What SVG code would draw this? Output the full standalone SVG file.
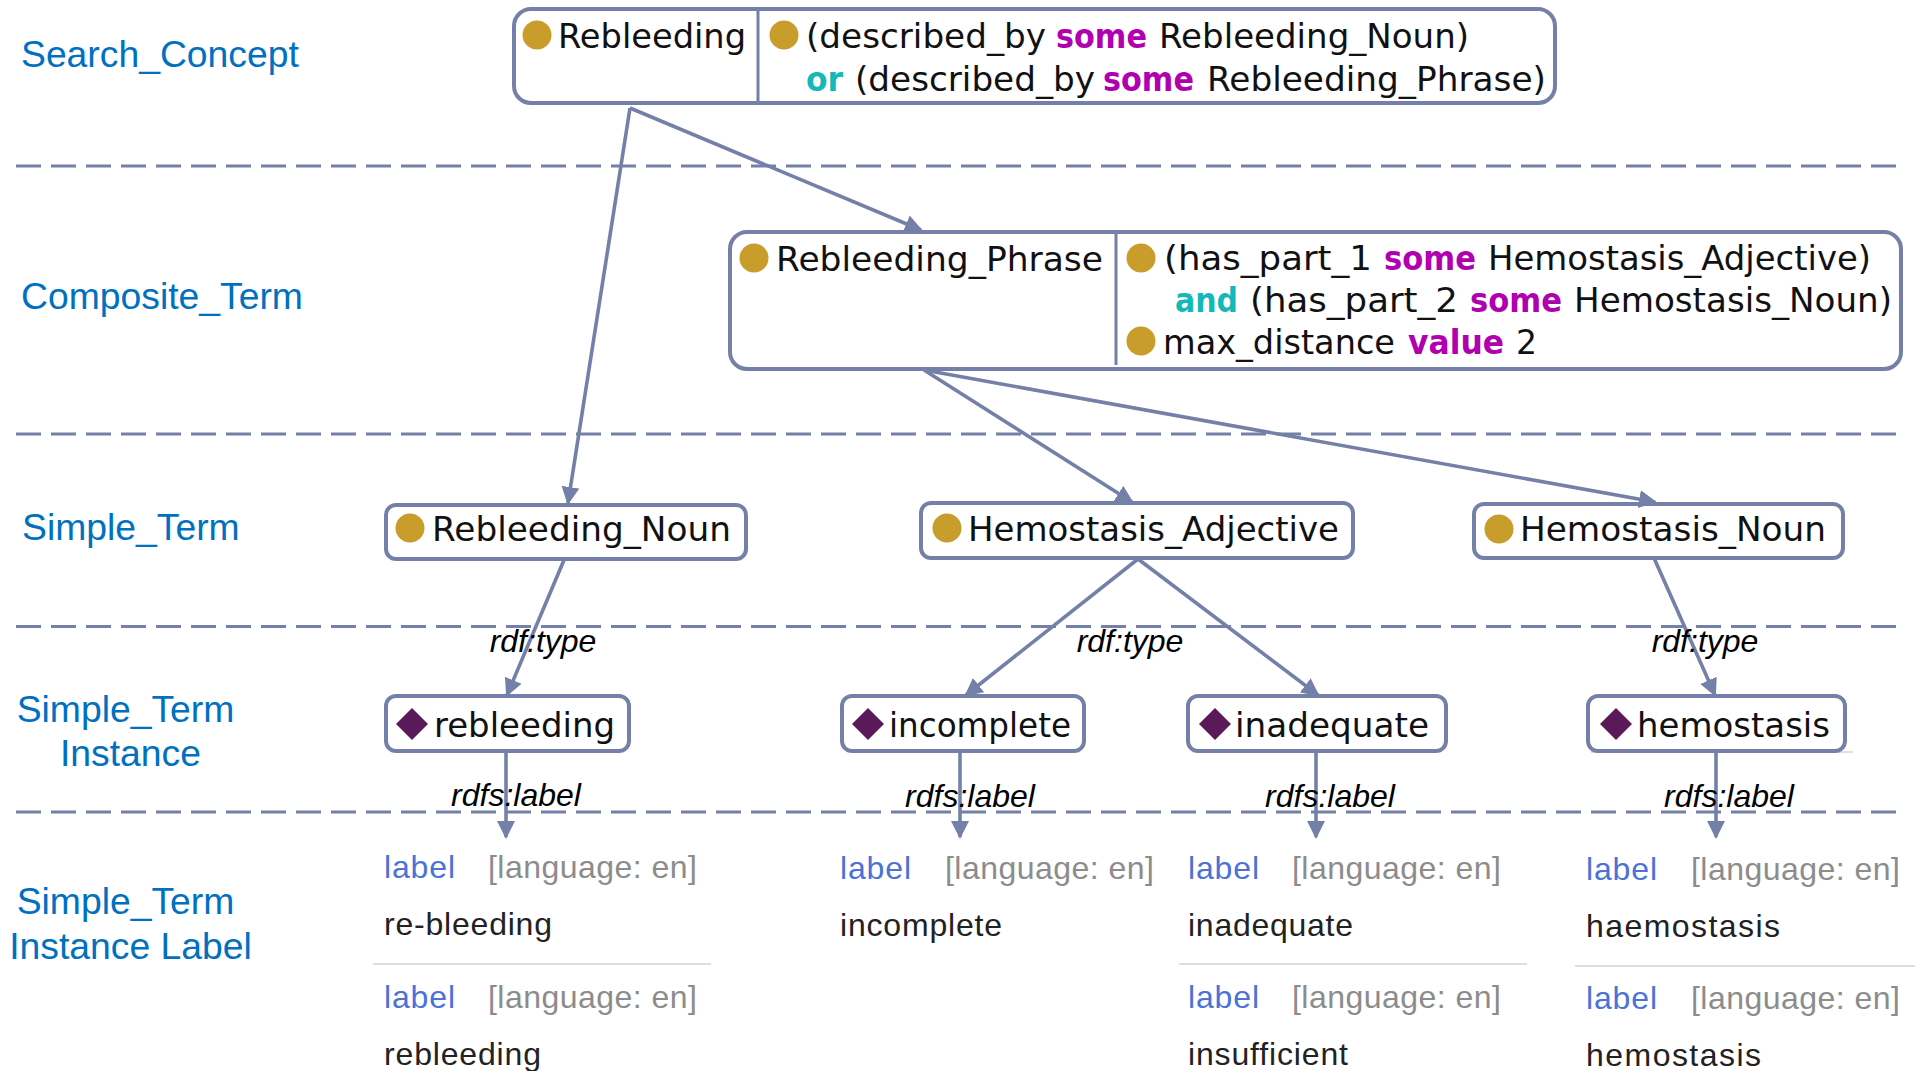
<svg xmlns="http://www.w3.org/2000/svg" width="1915" height="1071" viewBox="0 0 1915 1071">
<style>
.bg{fill:#fff}
.box{fill:#fff;stroke:#7480a8;stroke-width:4}
.div{stroke:#7480a8;stroke-width:3}
.sep{stroke:#dedede;stroke-width:2;fill:none}
.dash{stroke:#7480a8;stroke-width:3;stroke-dasharray:25 10;fill:none}
.conn{stroke:#7480a8;stroke-width:3.6;fill:none;marker-end:url(#arrow)}
.dot{fill:#c99d2b}
.dia{fill:#5a1a5a}
.n{font-family:"DejaVu Sans",sans-serif;font-size:33px;fill:#111}
.k{fill:#b000b0;font-weight:bold}
.o{fill:#14b8b8;font-weight:bold}
.leg{font-family:"Liberation Sans",Arial,sans-serif;font-size:37.3px;fill:#0070c0}
.el{font-family:"Liberation Sans",Arial,sans-serif;font-size:32px;font-style:italic;fill:#000;text-anchor:middle}
.l{font-family:"Liberation Sans",Arial,sans-serif;font-size:32px}
.lb{fill:#4a72d8}
.lg{fill:#8c8c8c}
.lv{fill:#222}
</style>
<defs>
<marker id="arrow" markerUnits="userSpaceOnUse" markerWidth="22" markerHeight="20" refX="16" refY="9" orient="auto"><path d="M0 0L18 9L0 18Z" fill="#7480a8"/></marker>
</defs>
<rect class="bg" width="1915" height="1071"/>
<g id="separators">
<path class="dash" d="M16 166H1899"/>
<path class="dash" d="M16 434H1899"/>
<path class="dash" d="M16 626.500H1899"/>
<path class="dash" d="M16 812H1899"/>
</g>
<g id="legend">
<text class="leg" x="21" y="67">Search_Concept</text>
<text class="leg" x="21" y="309">Composite_Term</text>
<text class="leg" x="22" y="540">Simple_Term</text>
<text class="leg" x="125.500" y="722" text-anchor="middle">Simple_Term</text>
<text class="leg" x="130.500" y="766" text-anchor="middle">Instance</text>
<text class="leg" x="125.500" y="914" text-anchor="middle">Simple_Term</text>
<text class="leg" x="130.500" y="959" text-anchor="middle">Instance Label</text>
</g>
<g id="node-rebleeding-concept">
<rect class="box" x="514" y="9" width="1041" height="94" rx="17"/>
<path class="div" d="M758 9V103"/>
<circle class="dot" cx="537" cy="35" r="14.500"/>
<text class="n" x="558" y="48" textLength="188" lengthAdjust="spacingAndGlyphs">Rebleeding</text>
<circle class="dot" cx="784" cy="35" r="14.500"/>
<text class="n" y="48"><tspan x="806" textLength="240" lengthAdjust="spacingAndGlyphs">(described_by</tspan> <tspan class="k" x="1056" textLength="91" lengthAdjust="spacingAndGlyphs">some</tspan> <tspan x="1159" textLength="310" lengthAdjust="spacingAndGlyphs">Rebleeding_Noun)</tspan></text>
<text class="n" y="91"><tspan class="o" x="806" textLength="37" lengthAdjust="spacingAndGlyphs">or</tspan> <tspan x="855" textLength="240" lengthAdjust="spacingAndGlyphs">(described_by</tspan> <tspan class="k" x="1103" textLength="91" lengthAdjust="spacingAndGlyphs">some</tspan> <tspan x="1207" textLength="339" lengthAdjust="spacingAndGlyphs">Rebleeding_Phrase)</tspan></text>
</g>
<g id="node-rebleeding-phrase">
<rect class="box" x="730" y="232" width="1171" height="137" rx="17"/>
<path class="div" d="M1116 232V365"/>
<circle class="dot" cx="754" cy="258" r="14.500"/>
<text class="n" x="776" y="271" textLength="327" lengthAdjust="spacingAndGlyphs">Rebleeding_Phrase</text>
<circle class="dot" cx="1141" cy="258" r="14.500"/>
<text class="n" y="270"><tspan x="1164" textLength="208" lengthAdjust="spacingAndGlyphs">(has_part_1</tspan> <tspan class="k" x="1384" textLength="92" lengthAdjust="spacingAndGlyphs">some</tspan> <tspan x="1488" textLength="383" lengthAdjust="spacingAndGlyphs">Hemostasis_Adjective)</tspan></text>
<text class="n" y="312"><tspan class="o" x="1175" textLength="63" lengthAdjust="spacingAndGlyphs">and</tspan> <tspan x="1250" textLength="208" lengthAdjust="spacingAndGlyphs">(has_part_2</tspan> <tspan class="k" x="1470" textLength="92" lengthAdjust="spacingAndGlyphs">some</tspan> <tspan x="1574" textLength="318" lengthAdjust="spacingAndGlyphs">Hemostasis_Noun)</tspan></text>
<circle class="dot" cx="1141" cy="341" r="14.500"/>
<text class="n" y="354"><tspan x="1163" textLength="232" lengthAdjust="spacingAndGlyphs">max_distance</tspan> <tspan class="k" x="1408" textLength="96" lengthAdjust="spacingAndGlyphs">value</tspan> <tspan x="1516" textLength="21" lengthAdjust="spacingAndGlyphs">2</tspan></text>
</g>
<g id="node-rebleeding-noun">
<rect class="box" x="386" y="505" width="360" height="54" rx="10"/>
<circle class="dot" cx="410" cy="528" r="14.500"/>
<text class="n" x="432" y="541" textLength="299" lengthAdjust="spacingAndGlyphs">Rebleeding_Noun</text>
</g>
<g id="node-hemostasis-adjective">
<rect class="box" x="921" y="503" width="432" height="55" rx="10"/>
<circle class="dot" cx="947" cy="528" r="14.500"/>
<text class="n" x="968" y="541" textLength="371" lengthAdjust="spacingAndGlyphs">Hemostasis_Adjective</text>
</g>
<g id="node-hemostasis-noun">
<rect class="box" x="1474" y="504" width="369" height="54" rx="10"/>
<circle class="dot" cx="1499" cy="529" r="14.500"/>
<text class="n" x="1520" y="541" textLength="306" lengthAdjust="spacingAndGlyphs">Hemostasis_Noun</text>
</g>
<g id="node-rebleeding">
<rect class="box" x="386" y="696" width="243" height="55" rx="10"/>
<path class="dia" d="M412 708L428 724L412 740L396 724Z"/>
<text class="n" x="434" y="737" textLength="181" lengthAdjust="spacingAndGlyphs">rebleeding</text>
</g>
<g id="node-incomplete">
<rect class="box" x="842" y="696" width="242" height="55" rx="10"/>
<path class="dia" d="M868 708L884 724L868 740L852 724Z"/>
<text class="n" x="889" y="737" textLength="182" lengthAdjust="spacingAndGlyphs">incomplete</text>
</g>
<g id="node-inadequate">
<rect class="box" x="1188" y="696" width="258" height="55" rx="10"/>
<path class="dia" d="M1215 708L1231 724L1215 740L1199 724Z"/>
<text class="n" x="1235" y="737" textLength="194" lengthAdjust="spacingAndGlyphs">inadequate</text>
</g>
<g id="node-hemostasis">
<path class="sep" d="M1591 752H1853"/>
<rect class="box" x="1588" y="696" width="257" height="55" rx="10"/>
<path class="dia" d="M1616 708L1632 724L1616 740L1600 724Z"/>
<text class="n" x="1637" y="737" textLength="193" lengthAdjust="spacingAndGlyphs">hemostasis</text>
</g>
<g id="connectors">
<path class="conn" d="M630 108L568 503"/>
<path class="conn" d="M630 108L921 230"/>
<path class="conn" d="M924 370L1132 502"/>
<path class="conn" d="M924 370L1655 502"/>
<path class="conn" d="M564 560L507 695"/>
<path class="conn" d="M1138 559L966 695"/>
<path class="conn" d="M1138 559L1318 695"/>
<path class="conn" d="M1654 558L1715 695"/>
<path class="conn" d="M506 752V837"/>
<path class="conn" d="M960 752V837"/>
<path class="conn" d="M1316 752V837"/>
<path class="conn" d="M1716 752V837"/>
</g>
<g id="edge-labels">
<text class="el" x="543" y="652">rdf:type</text>
<text class="el" x="1130" y="652">rdf:type</text>
<text class="el" x="1705" y="652">rdf:type</text>
<text class="el" x="516" y="806">rdfs:label</text>
<text class="el" x="970" y="807">rdfs:label</text>
<text class="el" x="1330" y="807">rdfs:label</text>
<text class="el" x="1729" y="807">rdfs:label</text>
</g>
<g id="labels-rebleeding" class="l">
<text class="lb" x="384" y="878" textLength="71">label</text>
<text class="lg" x="488" y="878" textLength="209">[language: en]</text>
<text class="lv" x="384" y="935" textLength="168">re-bleeding</text>
<path class="sep" d="M373 964H711"/>
<text class="lb" x="384" y="1008" textLength="71">label</text>
<text class="lg" x="488" y="1008" textLength="209">[language: en]</text>
<text class="lv" x="384" y="1065" textLength="157">rebleeding</text>
</g>
<g id="labels-incomplete" class="l">
<text class="lb" x="840" y="879" textLength="71">label</text>
<text class="lg" x="945" y="879" textLength="209">[language: en]</text>
<text class="lv" x="840" y="936" textLength="162">incomplete</text>
</g>
<g id="labels-inadequate" class="l">
<text class="lb" x="1188" y="879" textLength="71">label</text>
<text class="lg" x="1292" y="879" textLength="209">[language: en]</text>
<text class="lv" x="1188" y="936" textLength="165">inadequate</text>
<path class="sep" d="M1179 964H1527"/>
<text class="lb" x="1188" y="1008" textLength="71">label</text>
<text class="lg" x="1292" y="1008" textLength="209">[language: en]</text>
<text class="lv" x="1188" y="1065" textLength="160">insufficient</text>
</g>
<g id="labels-hemostasis" class="l">
<text class="lb" x="1586" y="880" textLength="71">label</text>
<text class="lg" x="1691" y="880" textLength="209">[language: en]</text>
<text class="lv" x="1586" y="937" textLength="194">haemostasis</text>
<path class="sep" d="M1575 966H1915"/>
<text class="lb" x="1586" y="1009" textLength="71">label</text>
<text class="lg" x="1691" y="1009" textLength="209">[language: en]</text>
<text class="lv" x="1586" y="1066" textLength="175">hemostasis</text>
</g>
</svg>
